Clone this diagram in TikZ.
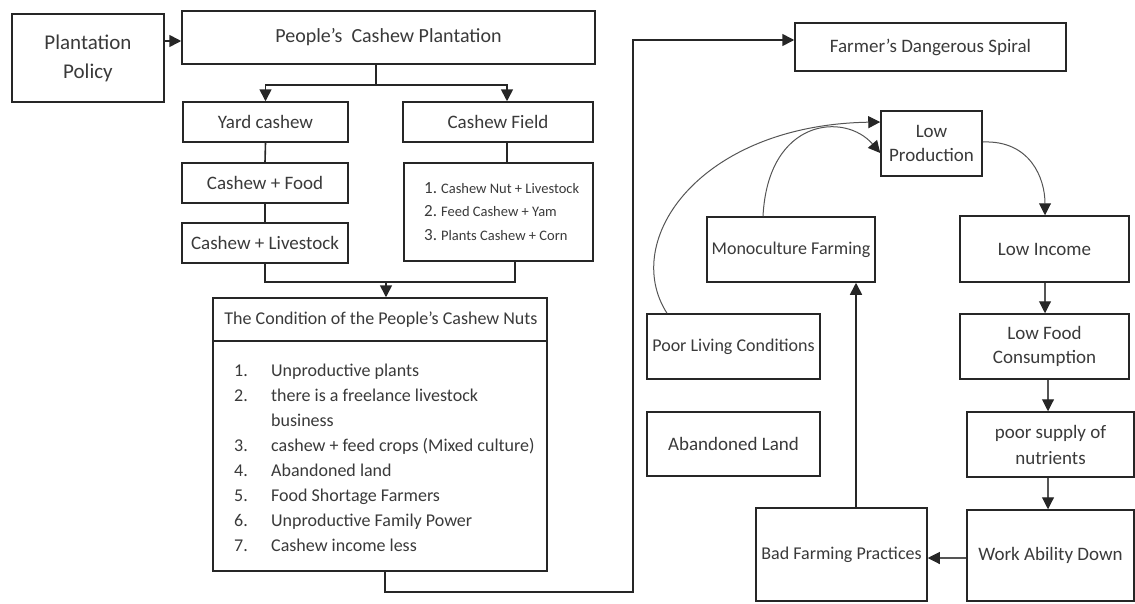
\documentclass[tikz,border=0pt]{standalone}
\usepackage{fontspec}
\setmainfont{Carlito}
\usetikzlibrary{arrows.meta}
\definecolor{txt}{HTML}{3A3A3A}
\definecolor{ln}{HTML}{262626}
\definecolor{cv}{HTML}{555555}
\newcommand{\bx}[7][]{\node[box,#1,minimum width={#5-#3},minimum height={#6-#4}] (#2) at ({(#3+#5)/2},{(#4+#6)/2}) {#7};}
\tikzset{
  box/.style={draw=ln, line width=1.5pt, fill=white, text=txt, inner sep=1pt, align=center, font=\fontsize{19}{24}\selectfont},
  ln/.style={draw=ln, line width=1.6pt},
  arr/.style={draw=ln, line width=1.6pt, -{Triangle[length=12pt,width=12pt]}},
  arrthin/.style={draw=cv, line width=1.1pt, -{Triangle[length=12pt,width=12pt,color=ln]}},
  curve/.style={draw=cv, line width=1pt, -{Triangle[length=12pt,width=12pt,color=ln]}},
  plaintext/.style={text=txt, inner sep=0pt, align=left}
}
\begin{document}
\begin{tikzpicture}[x=1pt,y=-1pt]
\useasboundingbox (0,0) rectangle (1135,603);
% boxes
\bx[font=\fontsize{21}{29}\selectfont]{pp}{12}{14}{164}{102}{Plantation\\Policy}
\bx[font=\fontsize{20}{24}\selectfont]{pcp}{182}{11}{595}{64}{People's\ \ Cashew Plantation}
\bx{yc}{183}{102}{348}{142}{Yard cashew}
\bx{cf}{403}{102}{593}{142}{Cashew Field}
\bx{cfood}{182}{163}{348}{203}{Cashew + Food}
\bx{cliv}{182}{223}{348}{263}{Cashew + Livestock}
\bx{cfl}{404}{163}{593}{261}{}
\bx{cond}{213}{298}{547}{571}{}
\bx{fds}{795}{23}{1066}{71}{Farmer's Dangerous Spiral}
\bx{lp}{881}{111}{982}{176}{Low\\Production}
\bx[font=\fontsize{18}{24}\selectfont]{mono}{707}{217}{875}{282}{Monoculture Farming}
\bx[font=\fontsize{18}{24}\selectfont]{plc}{647}{314}{820}{379}{Poor Living Conditions}
\bx{al}{647}{412}{820}{476}{Abandoned Land}
\bx[font=\fontsize{18}{24}\selectfont]{bfp}{756}{508}{927}{601}{Bad Farming Practices}
\bx{li}{960}{216}{1129}{282}{Low Income}
\bx{lfc}{960}{314}{1129}{379}{Low Food\\Consumption}
\bx[font=\fontsize{19}{26}\selectfont]{psn}{967}{412}{1134}{477}{poor supply of\\nutrients}
\bx{wad}{967}{510}{1134}{601}{Work Ability Down}
% inner texts
\node[plaintext, anchor=west, font=\fontsize{14.5}{23.5}\selectfont] (cfltext) at (424,212)
  {\begin{tabular}{@{}l@{\hspace{4pt}}l@{}}
   {\fontsize{17}{23.5}\selectfont 1.} & Cashew Nut + Livestock\\
   {\fontsize{17}{23.5}\selectfont 2.} & Feed Cashew + Yam\\
   {\fontsize{17}{23.5}\selectfont 3.} & Plants Cashew + Corn
   \end{tabular}};
\coordinate (sepy) at (0,341);
\draw[ln, line width=1.5pt] (cond.west |- sepy) -- (cond.east |- sepy);
\node[plaintext, font=\fontsize{18}{22}\selectfont] (condt) at (381,320) {The Condition of the People's Cashew Nuts};
\node[plaintext, anchor=west, font=\fontsize{18}{25}\selectfont] (condl) at (234,458.5)
  {\begin{tabular}{@{}p{37pt}@{}l@{}}
   1. & Unproductive plants\\
   2. & there is a freelance livestock\\
      & business\\
   3. & cashew + feed crops (Mixed culture)\\
   4. & Abandoned land\\
   5. & Food Shortage Farmers\\
   6. & Unproductive Family Power\\
   7. & Cashew income less
   \end{tabular}};
% helper coordinates
\coordinate (a1) at (0,41);
\coordinate (b1) at (376,85);
\coordinate (X507) at (507,0);
\coordinate (X515) at (515,0);
\coordinate (m1) at (386,282);
\coordinate (c1) at (385,592);
\coordinate (c2) at (633,592);
\coordinate (c3) at (633,40);
\coordinate (X667) at (667,0);
\coordinate (X763) at (763,0);
\coordinate (X856) at (856,0);
\coordinate (X1045) at (1045,0);
\coordinate (X1048) at (1048,0);
\coordinate (Y122) at (0,122);
\coordinate (Y142) at (0,142);
\coordinate (Y153) at (0,153);
\coordinate (Y558) at (0,558);
% left tree connectors
\draw[arr] (pp.east |- a1) -- (pcp.west |- a1);
\draw[ln] (pcp.south -| b1) -- (b1);
\draw[arr] (b1) -| (yc.north);
\draw[arr] (b1) -| (cf.north -| X507);
\draw[ln] (yc.south) -- (cfood.north);
\draw[ln] (cfood.south) -- (cliv.north);
\draw[ln] (cf.south -| X507) -- (cfl.north -| X507);
\draw[ln] (cliv.south) |- (m1);
\draw[ln] (cfl.south -| X515) |- (m1);
\draw[arr] (m1) -- (cond.north -| m1);
\draw[arr] (cond.south -| c1) -- (c1) -- (c2) -- (c3) -- (fds.west |- c3);
% spiral
\draw[curve] (plc.north -| X667) .. controls (620,240) and (700,125) .. (lp.west |- Y122);
\draw[curve] (mono.north -| X763) .. controls (768,118) and (845,112) .. (lp.west |- Y153);
\draw[curve] (lp.east |- Y142) .. controls (1030,140) and (1045,178) .. (li.north -| X1045);
\draw[arrthin] (li.south -| X1045) -- (lfc.north -| X1045);
\draw[arrthin] (lfc.south -| X1048) -- (psn.north -| X1048);
\draw[arrthin] (psn.south -| X1048) -- (wad.north -| X1048);
\draw[arrthin] (wad.west |- Y558) -- (bfp.east |- Y558);
\draw[arr] (bfp.north -| X856) -- (mono.south -| X856);
\end{tikzpicture}
\end{document}
